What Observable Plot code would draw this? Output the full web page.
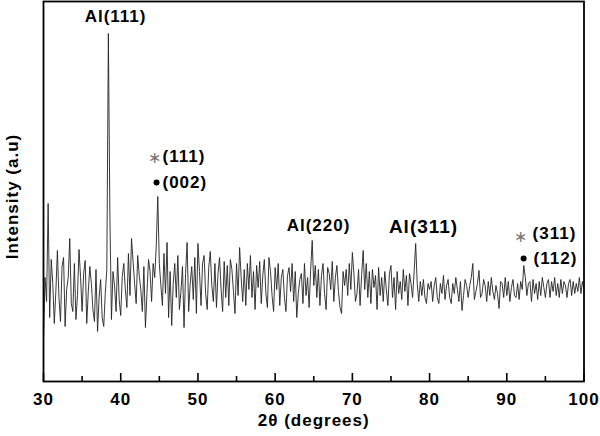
<!DOCTYPE html>
<html><head><meta charset="utf-8">
<script src="https://cdn.jsdelivr.net/npm/d3@7"></script>
<script src="https://cdn.jsdelivr.net/npm/@observablehq/plot@0.6"></script>
<style>
body{margin:0;background:#fff}
svg{font-family:"Liberation Sans",Arial,Helvetica,sans-serif}
svg text{letter-spacing:1px}
</style>
</head><body><div id="chart"></div><script>
// 2θ sampling grid (degrees)
const twoThetaStart = 30, twoThetaStep = 0.2;
const intensity = [
 40,104,80,178,64,   122,98,58,90,131,    84,60,115,124,55,   92,104,143,78,70,
 118,62,86,132,104,  70,108,121,58,90,    115,98,72,60,112,   50,84,102,64,55,
 88,112,348,165,62,  110,96,70,124,82,    66,105,118,92,74,   128,86,143,120,98,
 78,126,106,92,70,   115,54,88,122,110,   80,118,104,135,185, 118,96,76,128,88,
 139,64,110,56,98,   118,84,126,72,90,    115,54,108,139,70,  98,115,82,124,68,
 138,110,76,118,126, 88,72,114,130,96,    80,118,74,108,124,  92,70,120,84,116,
 76,122,112,90,68,   118,86,134,104,80,   112,76,118,92,126,  84,110,72,116,94,
 120,78,106,122,88,  74,124,110,86,70,    114,92,118,76,104,  112,84,70,106,114,
 90,118,80,110,64,   88,102,108,78,118,   86,104,74,112,141,  96,116,84,112,76,
 106,118,88,72,114,  108,92,120,80,104,   116,90,74,68,110,   96,112,86,118,92,
 129,108,80,88,112,  76,106,131,92,118,   84,110,78,112,94,   106,72,114,86,104,
 80,110,92,76,108,   116,84,104,72,110,   88,100,82,112,90,   106,76,108,98,84,
 110,138,98,80,100,  86,102,84,78,98,     92,100,80,96,104,   84,78,98,88,106,
 82,96,102,84,78,    98,88,104,92,80,     100,71,86,102,96,   84,96,104,118,82,
 90,98,111,84,88,    102,96,80,100,86,    104,90,82,96,88,    73,100,98,84,104,
 86,100,80,94,102,   86,84,98,82,100,     92,116,104,86,98,   100,80,102,88,98,
 82,100,86,104,94,   84,98,102,84,100,    90,104,86,98,84,    102,88,100,96,84,
 98,102,86,100,88,   98,90,104,88,100,    92
];
const xTicks = [30, 40, 50, 60, 70, 80, 90, 100];
const xMinorTicks = [35, 45, 55, 65, 75, 85, 95];

// Peak annotations (2θ, intensity)
const alLabels = ["Al(111)", "Al(220)", "Al(311)"];
const alX = [39.33, 65.62, 79.22];
const alY = [365, 156, 155];
const alSize = [17, 17, 19];
const phaseLabels = ["(111)", "(002)", "(311)", "(112)"];
const phaseX = [45.41, 45.41, 93.34, 93.47];
const phaseY = [225, 199, 148, 123];
const starX = [44.38, 91.79];
const starY = [224, 145];
const dotX = [44.64, 92.18];
const dotY = [199, 123];

const pattern = intensity.map((v, i) => ({t: twoThetaStart + i * twoThetaStep, v}));
const al = alLabels.map((s, i) => ({s, x: alX[i], y: alY[i], f: alSize[i]}));
const phase = phaseLabels.map((s, i) => ({s, x: phaseX[i], y: phaseY[i]}));
const stars = starX.map((x, i) => ({x, y: starY[i]}));
const dots = dotX.map((x, i) => ({x, y: dotY[i]}));

const chart = Plot.plot({
  width: 600, height: 436,
  marginLeft: 43, marginRight: 16.5, marginTop: 1, marginBottom: 55,
  x: {domain: [30, 100]},
  y: {domain: [0, 380], axis: null},
  marks: [
    Plot.line(pattern, {x: "t", y: "v", stroke: "#222", strokeWidth: 0.9}),
    Plot.ruleX(xTicks, {x: d => d, y1: 0, y2: 8, stroke: "black", strokeWidth: 1.6}),
    Plot.ruleX(xMinorTicks, {x: d => d, y1: 0, y2: 5, stroke: "black", strokeWidth: 1.6}),
    Plot.frame({stroke: "black", strokeWidth: 1.8}),
    Plot.axisX({ticks: xTicks, tickSize: 0, tickPadding: 11, fontSize: 17, fontWeight: "bold", label: null, tickFormat: d => String(d)}),
    Plot.text(["2θ (degrees)"], {frameAnchor: "bottom", dy: 39, lineAnchor: "middle", fontSize: 17, fontWeight: "bold", fill: "black"}),
    Plot.text(["Intensity (a.u)"], {frameAnchor: "left", dx: -31, dy: 5, rotate: -90, textAnchor: "middle", lineAnchor: "middle", fontSize: 17, fontWeight: "bold", fill: "black"}),
    Plot.text(al, {x: "x", y: "y", text: "s", fontSize: "f", fontWeight: "bold", fill: "black", lineAnchor: "middle"}),
    Plot.text(phase, {x: "x", y: "y", text: "s", fontSize: 17, fontWeight: "bold", fill: "black", textAnchor: "start", lineAnchor: "middle"}),
    Plot.text(stars, {x: "x", y: "y", text: () => "∗", fontSize: 16, fill: "#777", lineAnchor: "middle"}),
    Plot.dot(dots, {x: "x", y: "y", r: 3, fill: "black"})
  ]
});
document.getElementById("chart").appendChild(chart);
</script></body></html>
